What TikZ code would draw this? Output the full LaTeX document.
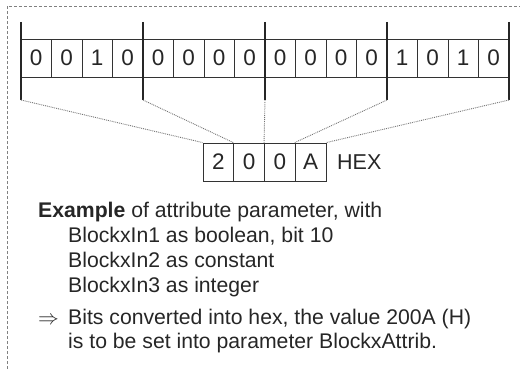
\documentclass[tikz,border=0pt]{standalone}
\usepackage{fontspec}
\setmainfont{Liberation Sans}
\begin{document}
\begin{tikzpicture}[x=1pt,y=-1pt,
  bitcell/.style={draw=black!80,line width=0.9pt,minimum width=30.5pt,minimum height=38pt,inner sep=0pt,font=\fontsize{22.5}{22.5}\selectfont,text=black!85},
  hexcell/.style={draw=black!80,line width=0.9pt,minimum width=30.75pt,minimum height=38pt,inner sep=0pt,font=\fontsize{22.5}{22.5}\selectfont,text=black!85},
  tick/.style={draw=black!85,line width=1.5pt},
  dotline/.style={draw=black!55,line width=0.9pt,densely dotted},
  frame/.style={draw=black!50,line width=0.8pt,densely dashed},
  txt/.style={anchor=base west,inner sep=0pt,font=\fontsize{21.2}{21.2}\selectfont,text=black!85}]
\useasboundingbox (0,0) rectangle (520,369);
\draw[frame] (7,369) -- (7,6) -- (520,6);
\foreach \b [count=\i from 0] in {0,0,1,0,0,0,0,0,0,0,0,0,1,0,1,0}{
  \node[bitcell] (b\i) at ({21+30.5*(\i+0.5)},58) {\b};
}
\foreach \h [count=\i from 0] in {2,0,0,A}{
  \node[hexcell] (h\i) at ({203+30.75*(\i+0.5)},162) {\h};
}
\node[anchor=west,inner sep=0pt,font=\fontsize{21.5}{21.5}\selectfont,text=black!85] (hex) at (337,162) {HEX};
\foreach \x [count=\k from 0] in {21,143,265,387,509}{
  \coordinate (t\k) at (\x,22);
  \coordinate (u\k) at (\x,100);
  \draw[tick] (t\k) -- (u\k);
}
\draw[dotline] (u0) -- (h0.north west);
\draw[dotline] (u1) -- (h1.north west);
\draw[dotline] (u2) -- (h2.north west);
\draw[dotline] (u3) -- (h3.north west);
\draw[dotline] (u4) -- (h3.north east);
\node[txt] (l1) at (38,217) {\textbf{Example} of attribute parameter, with};
\node[txt] (l2) at (68,242) {BlockxIn1 as boolean, bit 10};
\node[txt] (l3) at (68,267) {BlockxIn2 as constant};
\node[txt] (l4) at (68,292) {BlockxIn3 as integer};
\node[txt] (arr) at (38,324) {$\Rightarrow$};
\node[txt] (l5) at (68,324) {Bits converted into hex, the value 200A (H)};
\node[txt] (l6) at (68,348) {is to be set into parameter BlockxAttrib.};
\end{tikzpicture}
\end{document}
